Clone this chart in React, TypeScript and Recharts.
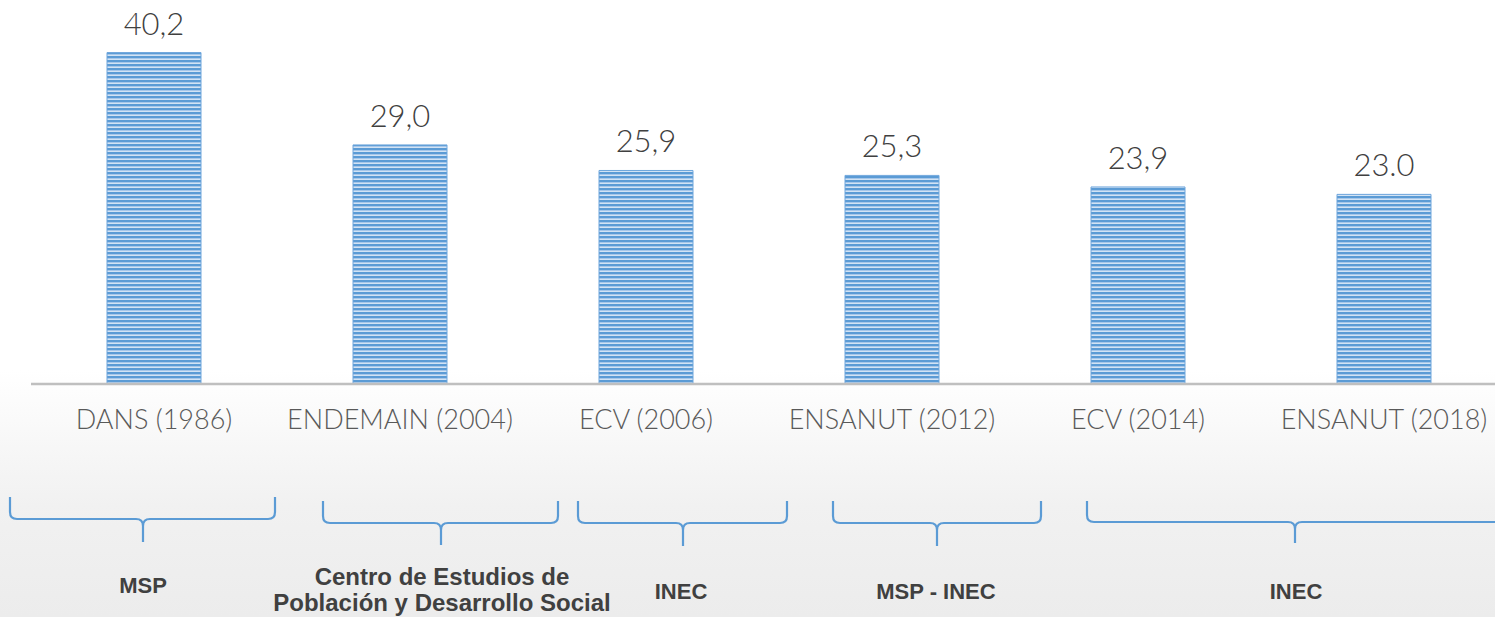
import React from "react";
import { BarChart, Bar, XAxis, YAxis, LabelList, Customized } from "recharts";

// ---- data ----
const categories = ["DANS (1986)", "ENDEMAIN (2004)", "ECV (2006)", "ENSANUT (2012)", "ECV (2014)", "ENSANUT (2018)"];
const values = [40.2, 29.0, 25.9, 25.3, 23.9, 23.0];
const valueLabels = ["40,2", "29,0", "25,9", "25,3", "23,9", "23.0"];
const sourceLabels = [["MSP"], ["Centro de Estudios de", "Población y Desarrollo Social"], ["INEC"], ["MSP - INEC"], ["INEC"]];

const data = categories.map((c, i) => ({ name: c, value: values[i], label: valueLabels[i] }));

// ---- layout (annotation geometry, page pixels) ----
const braces = [
  { x1: 10, x2: 275, tip: 143, top: 497, mid: 519, bottom: 542 },
  { x1: 323, x2: 558, tip: 441, top: 501, mid: 523, bottom: 545 },
  { x1: 578, x2: 787, tip: 683, top: 501, mid: 523, bottom: 546 },
  { x1: 833, x2: 1041, tip: 937, top: 501, mid: 523, bottom: 546 },
  { x1: 1087, x2: 1540, tip: 1295, top: 501, mid: 522, bottom: 543 },
];
const sourcePos = [
  { x: 143, y: [593] },
  { x: 442, y: [585, 611] },
  { x: 681, y: [599] },
  { x: 936, y: [599] },
  { x: 1296, y: [599] },
];

const FONT_LIGHT = "Lato, 'Open Sans', 'DejaVu Sans', sans-serif";
const FONT_BOLD = "'Liberation Sans', Arial, sans-serif";
const BLUE = "#5b9bd5";

function bracePath(b: any) {
  const r = 7;
  return [
    `M${b.x1},${b.top} L${b.x1},${b.mid - r} Q${b.x1},${b.mid} ${b.x1 + r},${b.mid}`,
    `L${b.tip - r},${b.mid} Q${b.tip},${b.mid} ${b.tip},${b.mid + r} L${b.tip},${b.bottom}`,
    `M${b.tip},${b.mid + r} Q${b.tip},${b.mid} ${b.tip + r},${b.mid}`,
    `L${b.x2 - r},${b.mid} Q${b.x2},${b.mid} ${b.x2},${b.mid - r} L${b.x2},${b.top}`,
  ].join(" ");
}

const Annotations = () => (
  <g>
    {braces.map((b, i) => (
      <path key={i} d={bracePath(b)} fill="none" stroke={BLUE} strokeWidth={2.2} />
    ))}
    {sourceLabels.map((lines, i) =>
      lines.map((t, j) => (
        <text
          key={`${i}-${j}`}
          x={sourcePos[i].x}
          y={sourcePos[i].y[j]}
          textAnchor="middle"
          fontFamily={FONT_BOLD}
          fontWeight={700}
          fontSize={lines.length > 1 ? 24 : 22}
          fill="#404040"
        >
          {t}
        </text>
      ))
    )}
  </g>
);

const Tick = (props: any) => {
  const { x, y, payload } = props;
  return (
    <text x={x} y={y} dy={37} textAnchor="middle" fontFamily={FONT_LIGHT} fontWeight={300} fontSize={27} fill="#595959">
      {payload.value}
    </text>
  );
};

const ValueLabel = (props: any) => {
  const { x, y, width, value } = props;
  return (
    <text x={x + width / 2} y={y - 18} textAnchor="middle" fontFamily={FONT_LIGHT} fontWeight={300} fontSize={31} fill="#404040">
      {value}
    </text>
  );
};

export default function App() {
  return (
    <div
      style={{
        position: "fixed",
        top: 0,
        left: 0,
        width: 1495,
        height: 617,
        overflow: "hidden",
        background:
          "linear-gradient(to bottom, #ffffff 0%, #ffffff 60%, #fafafa 68%, #f1f1f1 82%, #ececec 100%)",
      }}
    >
      <BarChart width={1510} height={617} data={data} margin={{ top: 13, right: 3, left: 31, bottom: 203 }} barSize={94}>
        <defs>
          <pattern id="stripes" width="8" height="4" patternUnits="userSpaceOnUse">
            <rect x="0" y="0" width="8" height="2" fill="#5b9bd5" />
            <rect x="0" y="2" width="8" height="1" fill="#a6c7ea" />
            <rect x="0" y="3" width="8" height="1" fill="#d2e3f4" />
          </pattern>
        </defs>
        <YAxis hide domain={[0, 45]} />
        <XAxis
          dataKey="name"
          height={30}
          tickLine={false}
          axisLine={{ stroke: "#bfbfbf", strokeWidth: 2.5 }}
          tick={<Tick />}
          interval={0}
        />
        <Bar dataKey="value" fill="url(#stripes)" stroke="#6fa6dc" strokeWidth={1} isAnimationActive={false}>
          <LabelList dataKey="label" content={<ValueLabel />} />
        </Bar>
        <Customized component={Annotations} />
      </BarChart>
    </div>
  );
}
